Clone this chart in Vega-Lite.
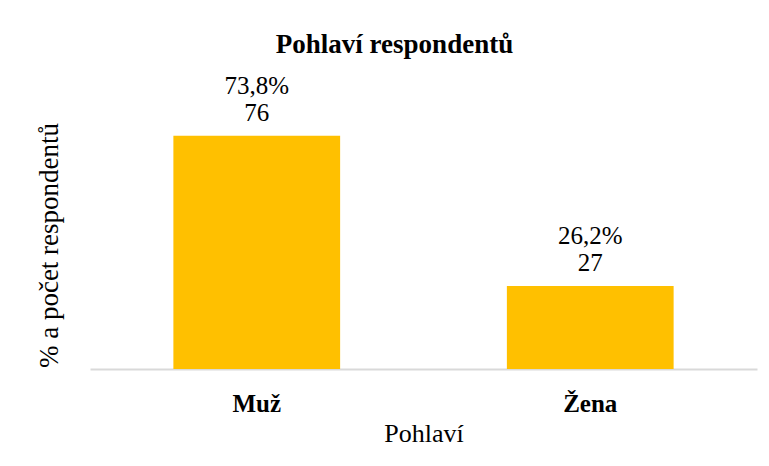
{
  "$schema": "https://vega.github.io/schema/vega-lite/v6.json",
  "autosize": {"type": "none"},
  "padding": {"left": 90, "top": 62, "right": 12, "bottom": 97},
  "width": 667,
  "height": 307,
  "background": "white",
  "title": {
    "text": "Pohlaví respondentů",
    "font": "Times New Roman, Liberation Serif, serif",
    "fontSize": 27,
    "fontWeight": "bold",
    "color": "#000000",
    "anchor": "middle",
    "dx": -29,
    "offset": 3
  },
  "data": {
    "values": [
      {"Pohlaví": "Muž", "pocet": 76, "procento": "73,8%"},
      {"Pohlaví": "Žena", "pocet": 27, "procento": "26,2%"}
    ]
  },
  "encoding": {
    "x": {
      "field": "Pohlaví",
      "type": "nominal",
      "sort": null,
      "scale": {"paddingInner": 0.5, "paddingOuter": 0.25},
      "axis": {
        "title": "Pohlaví",
        "titleFont": "Times New Roman, Liberation Serif, serif",
        "titleFontSize": 26,
        "titleFontWeight": "normal",
        "titleColor": "#000000",
        "titlePadding": 4,
        "labelFont": "Times New Roman, Liberation Serif, serif",
        "labelFontSize": 25,
        "labelFontWeight": "bold",
        "labelColor": "#000000",
        "labelAngle": 0,
        "labelPadding": 22,
        "ticks": false,
        "grid": false,
        "domainColor": "#d9d9d9",
        "domainWidth": 2
      }
    },
    "y": {
      "field": "pocet",
      "type": "quantitative",
      "scale": {"domain": [0, 100]},
      "axis": {
        "title": "% a počet respondentů",
        "titleFont": "Times New Roman, Liberation Serif, serif",
        "titleFontSize": 27,
        "titleFontWeight": "normal",
        "titleColor": "#000000",
        "titlePadding": 27,
        "titleY": 183,
        "labels": false,
        "ticks": false,
        "domain": false,
        "grid": false
      }
    }
  },
  "layer": [
    {"mark": {"type": "bar", "color": "#FFC000"}},
    {
      "mark": {"type": "text", "baseline": "alphabetic", "dy": -15, "font": "Times New Roman, Liberation Serif, serif", "fontSize": 25, "color": "#000000"},
      "encoding": {"text": {"field": "pocet", "type": "quantitative"}}
    },
    {
      "mark": {"type": "text", "baseline": "alphabetic", "dy": -42, "font": "Times New Roman, Liberation Serif, serif", "fontSize": 25, "color": "#000000"},
      "encoding": {"text": {"field": "procento", "type": "nominal"}}
    }
  ],
  "config": {"view": {"stroke": null}}
}
